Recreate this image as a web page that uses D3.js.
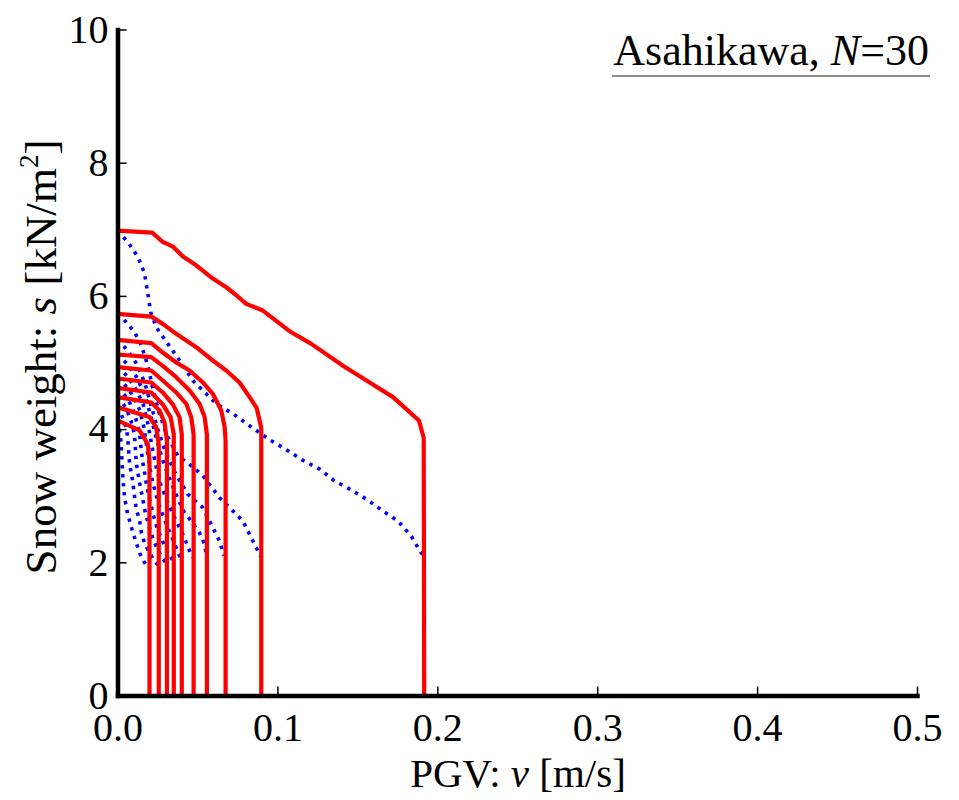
<!DOCTYPE html>
<html>
<head>
<meta charset="utf-8">
<script src="https://cdn.jsdelivr.net/npm/d3@7"></script>
<style>
  html, body { margin: 0; padding: 0; background: #fff; }
  svg { display: block; }
  text { font-family: "Liberation Serif", "Times New Roman", serif; fill: #000; }
</style>
</head>
<body>
<svg id="chart" width="959" height="800"></svg>
<script>
// Axis ticks
const vTicks = [0, 0.1, 0.2, 0.3, 0.4, 0.5];
const sTicks = [0, 2, 4, 6, 8, 10];

// Solid contours: [PGV v (m/s), snow weight s (kN/m2)]
const solid1 = [[0,6.98],[0.0217,6.95],[0.0283,6.81],[0.0346,6.74],[0.0409,6.59],[0.0492,6.46],[0.0596,6.26],[0.068,6.13],[0.0743,6.01],[0.0805,5.88],[0.0909,5.78],[0.1076,5.47],[0.1212,5.28],[0.141,4.95],[0.1577,4.70],[0.1723,4.48],[0.1885,4.13],[0.1915,3.87],[0.1918,0]];
const solid2 = [[0,5.73],[0.0211,5.69],[0.0283,5.58],[0.0367,5.43],[0.043,5.33],[0.0492,5.23],[0.0596,5.03],[0.068,4.88],[0.0763,4.70],[0.0826,4.48],[0.087,4.32],[0.0899,4.02],[0.0899,0]];
const solid3 = [[0,5.34],[0.0211,5.29],[0.0283,5.15],[0.0367,5.00],[0.0451,4.88],[0.0534,4.70],[0.0596,4.53],[0.0649,4.28],[0.067,4.03],[0.0676,3.83],[0.0676,0]];
const solid4 = [[0,5.12],[0.0211,5.08],[0.0283,4.95],[0.0367,4.78],[0.0451,4.58],[0.0513,4.38],[0.0545,4.18],[0.0559,3.92],[0.0559,0]];
const solid5 = [[0,4.93],[0.0211,4.88],[0.0283,4.73],[0.0367,4.55],[0.043,4.38],[0.0461,4.18],[0.0476,3.92],[0.0476,0]];
const solid6 = [[0,4.76],[0.0211,4.70],[0.0283,4.55],[0.0346,4.37],[0.0388,4.18],[0.0402,3.92],[0.0402,0]];
const solid7 = [[0,4.62],[0.0211,4.55],[0.0283,4.37],[0.0332,4.18],[0.0352,3.92],[0.0352,0]];
const solid8 = [[0,4.48],[0.0211,4.40],[0.0263,4.28],[0.0294,4.10],[0.0309,3.83],[0.0309,0]];
const solid9 = [[0,4.33],[0.02,4.18],[0.0242,4.03],[0.0258,3.77],[0.0258,0]];
const solid10 = [[0,4.13],[0.0138,3.98],[0.019,3.77],[0.02,3.52],[0.02,0]];

// Dotted contours
const dotted1 = [[0,6.98],[0.0064,6.81],[0.0127,6.59],[0.0169,6.34],[0.019,6.03],[0.0207,5.76],[0.0242,5.53],[0.0315,5.28],[0.0388,5.03],[0.0471,4.73],[0.0534,4.58],[0.0618,4.38],[0.0722,4.23],[0.0826,4.05],[0.0951,3.84],[0.1056,3.69],[0.116,3.53],[0.1264,3.40],[0.1358,3.22],[0.1452,3.10],[0.1556,2.95],[0.166,2.77],[0.1754,2.62],[0.1838,2.39],[0.1894,2.16],[0.1909,2.11]];
const dotted2 = [[0,5.73],[0.0019,5.70],[0.0064,5.58],[0.0106,5.46],[0.015,5.25],[0.019,4.95],[0.022,4.62],[0.026,4.25],[0.031,3.90],[0.0377,3.60],[0.0451,3.47],[0.0534,3.30],[0.0638,2.97],[0.0701,2.82],[0.0784,2.62],[0.0826,2.42],[0.0878,2.17],[0.0895,2.09]];
const dotted3 = [[0,5.34],[0.006,5.19],[0.012,4.98],[0.017,4.70],[0.021,4.36],[0.025,4.01],[0.030,3.66],[0.0365,3.32],[0.044,3.02],[0.0534,2.82],[0.0586,2.57],[0.0638,2.32],[0.0665,2.10]];
const dotted4 = [[0,5.12],[0.006,4.98],[0.012,4.78],[0.017,4.52],[0.021,4.18],[0.0245,3.84],[0.0285,3.52],[0.033,3.23],[0.0375,2.97],[0.0419,2.74],[0.0451,2.65],[0.0513,2.44],[0.0545,2.27],[0.0555,2.12]];
const dotted5 = [[0,4.93],[0.006,4.80],[0.011,4.62],[0.016,4.38],[0.019,4.08],[0.0215,3.75],[0.024,3.45],[0.027,3.17],[0.031,2.92],[0.0355,2.68],[0.0409,2.42],[0.0451,2.17],[0.0469,2.07]];
const dotted6 = [[0,4.76],[0.005,4.65],[0.010,4.49],[0.014,4.28],[0.0168,4.0],[0.0185,3.70],[0.020,3.45],[0.022,3.20],[0.0245,2.98],[0.0275,2.76],[0.031,2.54],[0.0345,2.35],[0.0372,2.19],[0.0394,2.06]];
const dotted7 = [[0,4.62],[0.004,4.52],[0.008,4.38],[0.011,4.20],[0.0138,3.93],[0.0148,3.70],[0.0158,3.50],[0.0169,3.35],[0.0179,3.20],[0.019,3.07],[0.0205,2.90],[0.0225,2.70],[0.025,2.50],[0.0285,2.30],[0.0318,2.14],[0.0345,2.03]];
const dotted8 = [[0,4.48],[0.003,4.40],[0.006,4.28],[0.0085,4.12],[0.0106,3.92],[0.0112,3.70],[0.0117,3.50],[0.0127,3.35],[0.0138,3.20],[0.0148,3.07],[0.0158,2.95],[0.0169,2.80],[0.019,2.60],[0.0215,2.40],[0.0245,2.22],[0.0275,2.09],[0.0300,2.00]];
const dotted9 = [[0,4.33],[0.002,4.24],[0.0042,4.12],[0.0058,3.98],[0.0066,3.80],[0.0075,3.50],[0.0085,3.35],[0.0096,3.20],[0.0106,3.0],[0.0117,2.80],[0.0138,2.63],[0.0150,2.44],[0.0169,2.29],[0.0205,2.12],[0.0235,2.01],[0.0252,1.96]];
const dotted10 = [[0,4.13],[0.001,4.02],[0.0018,3.90],[0.0023,3.75],[0.0028,3.50],[0.0035,3.22],[0.0044,2.97],[0.0064,2.72],[0.0096,2.45],[0.0138,2.14],[0.0165,2.01],[0.0188,1.93]];

const solidCurves = [solid1, solid2, solid3, solid4, solid5, solid6, solid7, solid8, solid9, solid10];
const dottedCurves = [dotted1, dotted2, dotted3, dotted4, dotted5, dotted6, dotted7, dotted8, dotted9, dotted10];

const svg = d3.select("#chart");

const x = d3.scaleLinear().domain([0, 0.5]).range([117.5, 917]);
const y = d3.scaleLinear().domain([0, 10]).range([695.5, 29.5]);

const line = d3.line().x(d => x(d[0])).y(d => y(d[1]));

// Dotted contours (underneath)
svg.append("g")
  .selectAll("path")
  .data(dottedCurves)
  .join("path")
  .attr("d", line)
  .attr("fill", "none")
  .attr("stroke", "#0000ff")
  .attr("stroke-width", 3.6)
  .attr("stroke-dasharray", "3.4,5.6")
  .attr("stroke-linecap", "butt");

// Solid contours
svg.append("g")
  .selectAll("path")
  .data(solidCurves)
  .join("path")
  .attr("d", line)
  .attr("fill", "none")
  .attr("stroke", "#ff0000")
  .attr("stroke-width", 4.2)
  .attr("stroke-linejoin", "round");

// Axes
const yAxis = d3.axisLeft(y)
  .tickValues(sTicks)
  .tickSize(-9)
  .tickSizeOuter(0)
  .tickPadding(9)
  .tickFormat(d3.format("d"));

const xAxis = d3.axisBottom(x)
  .tickValues(vTicks)
  .tickSize(-9)
  .tickSizeOuter(0)
  .tickPadding(17)
  .tickFormat(d3.format(".1f"));

const gy = svg.append("g").attr("transform", `translate(${x(0)},0)`).call(yAxis);
const gx = svg.append("g").attr("transform", `translate(0,${y(0)})`).call(xAxis);

[gx, gy].forEach(g => {
  g.select(".domain").attr("stroke", "#000").attr("stroke-width", 4.5).attr("stroke-linecap", "square");
  g.selectAll(".tick line").attr("stroke", "#000").attr("stroke-width", 1.5);
  g.selectAll(".tick text")
    .attr("font-family", "'Liberation Serif', 'Times New Roman', serif")
    .attr("font-size", 40)
    .attr("fill", "#000");
});

// Axis titles
const xl = svg.append("text")
  .attr("x", 518).attr("y", 787)
  .attr("text-anchor", "middle")
  .attr("font-size", 41);
xl.append("tspan").text("PGV: ");
xl.append("tspan").attr("font-style", "italic").text("v");
xl.append("tspan").text(" [m/s]");

const yl = svg.append("text")
  .attr("transform", "translate(56,357) rotate(-90)")
  .attr("text-anchor", "middle")
  .attr("font-size", 45);
yl.append("tspan").text("Snow weight: ");
yl.append("tspan").attr("font-style", "italic").text("s");
yl.append("tspan").text(" [kN/m");
yl.append("tspan").attr("font-size", 27).attr("dy", -18).text("2");
yl.append("tspan").attr("dy", 18).text("]");

// Panel title
const title = svg.append("text")
  .attr("x", 929).attr("y", 65)
  .attr("text-anchor", "end")
  .attr("font-size", 44);
title.append("tspan").text("Asahikawa, ");
title.append("tspan").attr("font-style", "italic").text("N");
title.append("tspan").text("=30");

svg.append("line")
  .attr("x1", 612).attr("x2", 930)
  .attr("y1", 76).attr("y2", 76)
  .attr("stroke", "#666")
  .attr("stroke-width", 1.5);
</script>
</body>
</html>
